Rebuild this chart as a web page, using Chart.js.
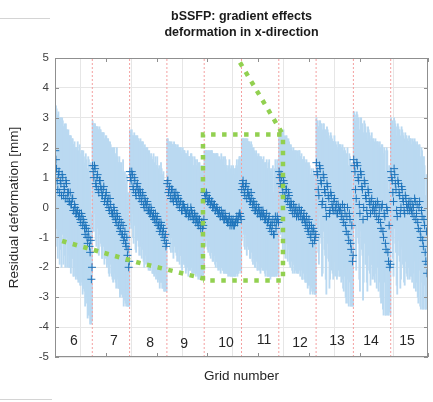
<!DOCTYPE html>
<html>
<head>
<meta charset="utf-8">
<script src="https://cdn.jsdelivr.net/npm/chart.js@4.4.0/dist/chart.umd.min.js"></script>
<style>
  html, body { margin: 0; padding: 0; background: #fff; }
  #wrap { position: relative; width: 433px; height: 402px; }
  .edge { position: absolute; height: 1px; background: #d4d4d4; }
</style>
</head>
<body>
<div id="wrap">
  <canvas id="chart" width="433" height="402"></canvas>
  <div class="edge" style="left:0;top:18px;width:50px"></div>
  <div class="edge" style="left:0;top:399px;width:52px"></div>
</div>
<script>
// one grid = 36.7 samples on the x axis (no labels shown, only gray grid every 50)
const GRID_WIDTH = 36.7;
const gridNames = ['6', '7', '8', '9', '10', '11', '12', '13', '14', '15'];

// mean residual deformation, two interleaved runs (A, B) per grid
const grid6Mean  = [1.9, 1.3, 0.6, 1.2, 0.9, 0.4, 1.0, 0.7, 0.3, 0.8, 0.5, 0.2, 0.5, 0.1, 0.3, -0.1, 0.0, -0.2, -0.1, -0.3, -0.4, -0.2, -0.6, -0.5, -0.9, -0.7, -1.2, -1.0, -1.5, -2.4];
const grid7Mean  = [1.4, 1.0, 1.3, 0.7, 1.1, 0.5, 0.9, 0.6, 0.4, 0.7, 0.3, 0.5, 0.2, 0.0, 0.3, -0.1, -0.2, 0.0, -0.3, -0.5, -0.3, -0.6, -0.8, -0.5, -0.9, -1.1, -0.8, -1.3, -1.6, -2.0];
const grid8Mean  = [1.2, 0.9, 1.1, 0.6, 0.9, 0.4, 0.8, 0.5, 0.6, 0.3, 0.5, 0.1, 0.3, 0.0, 0.2, -0.1, -0.2, 0.0, -0.3, -0.2, -0.4, -0.5, -0.3, -0.6, -0.8, -0.5, -0.9, -0.7, -1.1, -1.3];
const grid9Mean  = [0.8, 0.5, 0.7, 0.3, 0.6, 0.2, 0.4, 0.5, 0.1, 0.3, 0.0, 0.2, -0.1, 0.1, 0.0, -0.2, -0.1, -0.3, -0.2, 0.0, -0.3, -0.4, -0.2, -0.5, -0.3, -0.6, -0.4, -0.7, -0.5, -0.6];
const grid10Mean = [0.5, 0.3, 0.4, 0.2, 0.3, 0.1, 0.2, 0.0, 0.1, -0.1, 0.0, -0.2, -0.1, -0.3, -0.2, -0.2, -0.4, -0.3, -0.4, -0.5, -0.3, -0.5, -0.6, -0.4, -0.6, -0.5, -0.3, -0.4, -0.2, -0.3];
const grid11Mean = [0.6, 0.9, 0.5, 0.7, 0.3, 0.6, 0.4, 0.2, 0.3, 0.0, 0.1, -0.1, 0.0, -0.2, -0.1, -0.3, -0.2, -0.1, -0.3, -0.4, -0.2, -0.5, -0.3, -0.6, -0.8, -0.4, -0.9, -0.3, -0.5, -0.4];
const grid12Mean = [1.2, 0.8, 1.0, 0.5, 0.8, 0.3, 0.6, 0.2, 0.4, 0.0, 0.1, -0.2, 0.0, -0.1, -0.3, -0.2, 0.0, -0.3, -0.1, -0.4, -0.2, -0.5, -0.3, -0.7, -0.4, -0.9, -0.6, -1.2, -0.8, -1.0];
const grid13Mean = [1.5, 1.1, 0.4, 1.3, 0.8, 0.2, 1.0, 0.5, -0.3, 0.7, 0.3, -0.1, 0.4, 0.0, 0.2, -0.1, 0.1, -0.2, 0.0, -0.1, -0.3, 0.1, -0.5, -0.2, -0.8, 0.0, -1.1, -0.4, -1.4, -1.8];
const grid14Mean = [1.6, 1.2, 0.3, 1.4, 0.9, -0.2, 1.1, 0.6, 0.0, 0.8, 0.3, -0.3, 0.5, 0.1, 0.2, -0.1, 0.1, -0.2, 0.0, 0.2, -0.4, 0.0, -0.7, 0.1, -1.0, -0.3, -1.4, -0.1, -1.8, -2.0];
const grid15Mean = [1.2, 0.9, 0.2, 1.1, 0.6, -0.3, 0.8, 0.4, 0.0, 0.6, 0.2, -0.2, 0.3, 0.0, 0.1, -0.1, 0.2, -0.2, 0.0, 0.3, -0.4, 0.1, -0.7, 0.2, -1.0, -0.3, -1.3, -0.6, -1.8, -2.2];

const grid6MeanB  = [1.6, 0.9, 1.1, 0.5, 0.8, 1.1, 0.4, 0.6, 0.9, 0.3, 0.5, 0.2, 0.1, 0.3, -0.1, 0.1, -0.2, -0.1, -0.3, -0.2, -0.5, -0.3, -0.4, -0.7, -0.6, -1.0, -0.8, -1.3, -1.1, -2.0];
const grid7MeanB  = [1.2, 1.4, 0.8, 1.0, 0.6, 0.9, 0.7, 0.4, 0.6, 0.2, 0.4, 0.1, 0.3, -0.1, 0.1, -0.2, -0.3, -0.1, -0.4, -0.2, -0.6, -0.4, -0.7, -0.9, -0.6, -1.0, -1.2, -1.0, -1.4, -1.8];
const grid8MeanB  = [1.0, 1.2, 0.7, 1.0, 0.5, 0.7, 0.6, 0.3, 0.5, 0.2, 0.4, 0.0, 0.2, 0.1, -0.1, 0.0, -0.2, -0.1, -0.3, -0.4, -0.2, -0.4, -0.6, -0.5, -0.7, -0.6, -0.8, -1.0, -0.9, -1.2];
const grid9MeanB  = [0.9, 0.6, 0.4, 0.6, 0.3, 0.5, 0.3, 0.2, 0.4, 0.1, 0.2, -0.1, 0.1, 0.0, -0.1, -0.2, 0.0, -0.2, -0.3, -0.1, -0.2, -0.4, -0.3, -0.4, -0.5, -0.4, -0.6, -0.5, -0.7, -0.4];
const grid10MeanB = [0.4, 0.5, 0.2, 0.3, 0.1, 0.2, 0.0, 0.1, -0.1, 0.0, -0.1, -0.2, -0.3, -0.1, -0.3, -0.4, -0.2, -0.4, -0.5, -0.4, -0.6, -0.4, -0.5, -0.6, -0.5, -0.4, -0.5, -0.3, -0.2, -0.4];
const grid11MeanB = [0.8, 0.7, 0.4, 0.8, 0.5, 0.4, 0.2, 0.5, 0.1, 0.2, -0.1, 0.1, -0.2, 0.0, -0.2, -0.1, -0.3, -0.2, -0.4, -0.3, -0.5, -0.4, -0.7, -0.5, -0.6, -0.9, -0.5, -0.7, -0.3, -0.5];
const grid12MeanB = [1.0, 1.1, 0.7, 0.9, 0.4, 0.6, 0.3, 0.5, 0.1, 0.2, -0.1, 0.1, -0.2, 0.0, -0.1, -0.3, -0.1, -0.2, -0.4, -0.3, -0.4, -0.6, -0.5, -0.8, -0.6, -1.0, -0.8, -0.7, -1.1, -0.9];
const grid13MeanB = [1.2, 0.6, 1.4, 0.9, 0.1, 1.1, 0.6, 0.0, 0.8, 0.4, -0.2, 0.5, 0.1, -0.1, 0.3, 0.0, -0.2, 0.1, -0.1, 0.0, -0.2, -0.4, 0.0, -0.6, -0.3, -0.9, -0.2, -1.2, -0.6, -1.6];
const grid14MeanB = [1.4, 0.6, 1.5, 1.0, 0.1, 1.2, 0.7, -0.4, 0.9, 0.4, -0.1, 0.6, 0.2, -0.2, 0.3, 0.0, -0.1, 0.1, -0.3, 0.1, -0.2, -0.5, 0.0, -0.8, -0.2, -1.2, 0.0, -1.5, -0.6, -1.9];
const grid15MeanB = [1.0, 0.5, 1.3, 0.8, -0.1, 0.9, 0.5, -0.2, 0.7, 0.3, -0.1, 0.4, 0.1, -0.1, 0.2, 0.0, -0.1, 0.1, -0.3, 0.2, -0.2, -0.5, 0.0, -0.8, -0.1, -1.1, -0.4, -1.5, -0.8, -1.9];

// half length of the error bar for each point
const grid6Err  = [1.5, 2.0, 2.3, 1.8, 2.1, 2.4, 1.9, 2.0, 2.3, 1.8, 2.0, 2.2, 1.9, 2.1, 2.0, 2.2, 2.0, 2.1, 2.3, 2.0, 2.2, 2.1, 2.3, 2.2, 2.4, 2.3, 2.5, 2.6, 2.4, 1.5];
const grid7Err  = [1.5, 1.8, 1.5, 2.0, 1.6, 2.1, 1.7, 1.9, 2.1, 1.8, 2.0, 1.9, 2.1, 2.2, 1.9, 2.1, 2.2, 2.0, 2.1, 2.2, 2.0, 2.1, 2.2, 2.0, 2.1, 2.2, 2.0, 2.0, 1.7, 1.3];
const grid8Err  = [1.4, 1.6, 1.3, 1.8, 1.5, 1.9, 1.6, 1.8, 1.6, 1.9, 1.7, 1.9, 1.8, 1.9, 1.8, 2.0, 1.9, 1.8, 1.9, 2.0, 1.8, 1.9, 2.0, 1.8, 1.9, 2.0, 1.8, 1.9, 1.7, 1.5];
const grid9Err  = [1.5, 1.7, 1.4, 1.8, 1.5, 1.9, 1.7, 1.6, 1.9, 1.7, 1.9, 1.8, 2.0, 1.8, 1.9, 2.0, 1.9, 2.0, 1.9, 1.8, 1.9, 1.8, 1.9, 1.8, 1.9, 1.8, 1.9, 1.7, 1.9, 1.8];
const grid10Err = [1.4, 1.6, 1.5, 1.7, 1.6, 1.8, 1.7, 1.8, 1.7, 1.9, 1.8, 1.9, 1.8, 1.9, 1.8, 1.9, 1.8, 1.9, 1.8, 1.8, 1.9, 1.8, 1.7, 1.8, 1.7, 1.8, 1.9, 1.8, 1.9, 1.8];
const grid11Err = [1.7, 1.4, 1.8, 1.6, 1.9, 1.6, 1.8, 1.9, 1.8, 1.9, 1.8, 1.9, 1.8, 1.9, 1.8, 1.9, 1.8, 1.7, 1.8, 1.9, 1.8, 1.8, 1.9, 1.8, 1.5, 1.8, 1.4, 1.9, 1.8, 1.8];
const grid12Err = [1.4, 1.7, 1.5, 1.9, 1.6, 2.0, 1.8, 2.0, 1.8, 2.0, 1.9, 2.0, 1.9, 2.0, 1.9, 2.0, 1.9, 2.0, 1.9, 2.0, 1.9, 2.0, 1.9, 2.0, 1.9, 2.0, 1.9, 1.7, 2.0, 1.9];
const grid13Err = [1.5, 1.8, 2.3, 1.6, 2.0, 2.4, 1.8, 2.1, 2.6, 1.9, 2.1, 2.3, 2.0, 2.2, 2.0, 2.2, 2.0, 2.1, 2.1, 2.2, 2.2, 2.0, 2.3, 2.1, 2.4, 2.0, 2.2, 2.1, 1.9, 1.5];
const grid14Err = [1.6, 1.9, 2.4, 1.7, 2.1, 2.6, 1.9, 2.2, 2.5, 2.0, 2.2, 2.5, 2.1, 2.3, 2.1, 2.3, 2.2, 2.3, 2.2, 2.0, 2.4, 2.2, 2.5, 2.0, 2.6, 2.2, 2.2, 2.0, 1.8, 1.5];
const grid15Err = [1.8, 2.0, 2.5, 1.8, 2.1, 2.6, 1.9, 2.2, 2.4, 2.0, 2.2, 2.4, 2.1, 2.3, 2.1, 2.3, 2.1, 2.3, 2.2, 2.0, 2.4, 2.1, 2.5, 1.9, 2.4, 2.2, 2.1, 2.0, 1.6, 1.2];

const grid6ErrB  = [1.8, 2.2, 2.1, 2.4, 2.2, 1.9, 2.3, 2.2, 1.9, 2.3, 2.1, 2.2, 2.3, 2.0, 2.2, 2.1, 2.2, 2.1, 2.2, 2.3, 2.1, 2.2, 2.3, 2.1, 2.4, 2.2, 2.5, 2.3, 2.6, 1.8];
const grid7ErrB  = [1.6, 1.4, 1.9, 1.7, 2.0, 1.8, 1.9, 2.1, 1.9, 2.1, 2.0, 2.1, 2.0, 2.2, 2.0, 2.1, 2.2, 2.1, 2.1, 2.2, 2.1, 2.1, 2.2, 2.0, 2.2, 2.1, 2.0, 2.1, 1.9, 1.5];
const grid8ErrB  = [1.5, 1.4, 1.7, 1.5, 1.9, 1.7, 1.7, 1.9, 1.8, 1.9, 1.8, 2.0, 1.8, 1.9, 1.9, 1.9, 1.9, 1.8, 1.9, 1.9, 1.9, 1.8, 1.9, 1.9, 1.8, 1.9, 1.9, 1.8, 1.8, 1.6];
const grid9ErrB  = [1.4, 1.6, 1.8, 1.6, 1.8, 1.7, 1.8, 1.8, 1.7, 1.9, 1.8, 1.9, 1.9, 1.9, 1.9, 1.9, 1.9, 1.9, 1.8, 1.9, 1.9, 1.8, 1.9, 1.8, 1.8, 1.9, 1.8, 1.9, 1.7, 1.8];
const grid10ErrB = [1.5, 1.4, 1.6, 1.6, 1.7, 1.7, 1.8, 1.7, 1.8, 1.8, 1.9, 1.8, 1.8, 1.9, 1.8, 1.8, 1.9, 1.8, 1.7, 1.8, 1.7, 1.8, 1.8, 1.7, 1.8, 1.8, 1.8, 1.9, 1.9, 1.8];
const grid11ErrB = [1.5, 1.6, 1.8, 1.5, 1.8, 1.8, 1.9, 1.7, 1.9, 1.8, 1.9, 1.8, 1.9, 1.8, 1.9, 1.8, 1.8, 1.9, 1.8, 1.8, 1.8, 1.9, 1.6, 1.8, 1.7, 1.4, 1.8, 1.6, 1.9, 1.8];
const grid12ErrB = [1.6, 1.5, 1.8, 1.7, 1.9, 1.8, 2.0, 1.8, 2.0, 1.9, 2.0, 1.9, 2.0, 1.9, 2.0, 1.9, 2.0, 1.9, 2.0, 1.9, 2.0, 1.9, 2.0, 1.8, 2.0, 1.8, 1.9, 2.0, 1.8, 2.0];
const grid13ErrB = [1.7, 2.1, 1.5, 1.9, 2.4, 1.7, 2.0, 2.4, 1.9, 2.1, 2.5, 2.0, 2.2, 2.3, 2.1, 2.2, 2.2, 2.1, 2.2, 2.1, 2.2, 2.3, 2.0, 2.4, 2.1, 2.3, 2.0, 2.1, 2.1, 1.7];
const grid14ErrB = [1.8, 2.3, 1.7, 2.0, 2.5, 1.8, 2.1, 2.7, 2.0, 2.3, 2.4, 2.1, 2.3, 2.4, 2.2, 2.3, 2.3, 2.2, 2.4, 2.1, 2.3, 2.5, 2.1, 2.6, 2.2, 2.4, 2.0, 2.1, 2.0, 1.7];
const grid15ErrB = [1.9, 2.2, 1.7, 2.0, 2.5, 1.9, 2.1, 2.5, 2.0, 2.2, 2.4, 2.1, 2.3, 2.3, 2.2, 2.3, 2.2, 2.2, 2.4, 2.0, 2.3, 2.5, 2.1, 2.5, 2.1, 2.3, 2.1, 1.9, 1.9, 1.4];

// grid number labels inside the axes (x in samples, y in mm)
const labelX = [18.7, 58, 93.5, 127, 168.2, 205.6, 241, 277.5, 311, 346.3];
const labelY = [-4.48, -4.48, -4.55, -4.58, -4.53, -4.43, -4.55, -4.47, -4.47, -4.47];

// green dotted zoom marker
const calloutLeftX  = [7, 80.7, 145.6];
const calloutLeftY  = [-1.12, -1.83, -2.37];
const calloutBoxX   = [145.6, 145.6, 224.3, 224.3, 145.6];
const calloutBoxY   = [-2.44, 2.44, 2.44, -2.44, -2.44];
const calloutTopX   = [182, 224.3];
const calloutTopY   = [4.85, 2.44];

const runs = [
    { shift: 0.25, means: [grid6Mean, grid7Mean, grid8Mean, grid9Mean, grid10Mean, grid11Mean, grid12Mean, grid13Mean, grid14Mean, grid15Mean],
      errs: [grid6Err, grid7Err, grid8Err, grid9Err, grid10Err, grid11Err, grid12Err, grid13Err, grid14Err, grid15Err] },
    { shift: 0.75, means: [grid6MeanB, grid7MeanB, grid8MeanB, grid9MeanB, grid10MeanB, grid11MeanB, grid12MeanB, grid13MeanB, grid14MeanB, grid15MeanB],
      errs: [grid6ErrB, grid7ErrB, grid8ErrB, grid9ErrB, grid10ErrB, grid11ErrB, grid12ErrB, grid13ErrB, grid14ErrB, grid15ErrB] }
];

const points = [];
runs.forEach(run => {
    run.means.forEach((means, g) => {
        means.forEach((m, i) => {
            points.push({ x: (g + (i + run.shift) / means.length) * GRID_WIDTH, m: m, e: run.errs[g][i] });
        });
    });
});

const gridBounds = gridNames.map((n, i) => (i + 1) * GRID_WIDTH);
const boundLines = [];
gridBounds.forEach(b => boundLines.push({ x: b, y: -5 }, { x: b, y: 5 }, { x: b, y: null }));

const calloutPath = [];
[[calloutLeftX, calloutLeftY], [calloutBoxX, calloutBoxY], [calloutTopX, calloutTopY]].forEach(([xs, ys]) => {
    xs.forEach((x, i) => calloutPath.push({ x: x, y: ys[i] }));
    calloutPath.push({ x: xs[xs.length - 1], y: null });
});

const FONT = '"Liberation Sans", Arial, sans-serif';

const gridLabels = {
    id: 'gridLabels',
    afterDatasetsDraw(chart) {
        const { ctx, scales: { x, y } } = chart;
        ctx.save();
        ctx.font = '14px ' + FONT;
        ctx.fillStyle = '#262626';
        ctx.textAlign = 'center';
        ctx.textBaseline = 'middle';
        gridNames.forEach((name, i) => ctx.fillText(name, x.getPixelForValue(labelX[i]), y.getPixelForValue(labelY[i])));
        ctx.restore();
    }
};

// matlab style box with inward ticks
const axesBox = {
    id: 'axesBox',
    afterDraw(chart) {
        const { ctx, chartArea: a, scales: { x, y } } = chart;
        ctx.save();
        ctx.strokeStyle = '#8f8f8f';
        ctx.lineWidth = 1;
        ctx.strokeRect(a.left + 0.5, a.top + 0.5, a.right - a.left - 1, a.bottom - a.top - 1);
        ctx.beginPath();
        x.ticks.forEach(t => {
            const px = Math.round(x.getPixelForValue(t.value)) + 0.5;
            ctx.moveTo(px, a.top); ctx.lineTo(px, a.top + 4);
            ctx.moveTo(px, a.bottom); ctx.lineTo(px, a.bottom - 4);
        });
        y.ticks.forEach(t => {
            const py = Math.round(y.getPixelForValue(t.value)) + 0.5;
            ctx.moveTo(a.left, py); ctx.lineTo(a.left + 4, py);
            ctx.moveTo(a.right, py); ctx.lineTo(a.right - 4, py);
        });
        ctx.stroke();
        ctx.restore();
    }
};

new Chart(document.getElementById('chart'), {
    type: 'scatter',
    data: {
        datasets: [
            {
                type: 'line',
                data: calloutPath,
                borderColor: '#92d050',
                borderWidth: 4.5,
                borderDash: [4.5, 6.5],
                pointRadius: 0,
                spanGaps: false,
                order: 0
            },
            {
                type: 'scatter',
                data: points.map(p => ({ x: p.x, y: p.m })),
                pointStyle: 'cross',
                pointRadius: 4,
                pointBorderWidth: 1,
                pointBorderColor: '#1f74bb',
                pointBackgroundColor: '#1f74bb',
                order: 1
            },
            {
                type: 'line',
                data: boundLines,
                borderColor: '#f4a0a0',
                borderWidth: 1,
                borderDash: [2, 2],
                pointRadius: 0,
                spanGaps: false,
                order: 2
            },
            {
                type: 'bar',
                data: points.map(p => ({ x: p.x, y: [p.m - p.e, p.m + p.e] })),
                backgroundColor: '#bad9f1',
                borderWidth: 0,
                barThickness: 1.2,
                grouped: false,
                order: 3
            }
        ]
    },
    options: {
        responsive: false,
        devicePixelRatio: 1,
        animation: false,
        layout: { padding: { top: 0, right: 5, bottom: 0, left: 0 } },
        plugins: {
            legend: { display: false },
            tooltip: { enabled: false },
            title: {
                display: true,
                fullSize: false,
                text: ['bSSFP: gradient effects', 'deformation in x-direction'],
                color: '#1a1a1a',
                font: { family: FONT, size: 12.5, weight: 'bold', lineHeight: 1.24 },
                padding: { top: 9, bottom: 18 }
            }
        },
        scales: {
            x: {
                type: 'linear',
                min: 0,
                max: gridBounds[gridBounds.length - 1],
                offset: false,
                ticks: { stepSize: 50, display: false },
                grid: { color: '#e6e6e6', drawTicks: false },
                border: { display: false },
                title: {
                    display: true,
                    text: 'Grid number',
                    color: '#262626',
                    font: { family: FONT, size: 13.5 },
                    padding: { top: 4, bottom: 18 }
                },
                afterFit: s => { s.height = 45; }
            },
            y: {
                min: -5,
                max: 5,
                ticks: { stepSize: 1, padding: 6, color: '#404040', font: { family: FONT, size: 11.5 } },
                grid: { color: '#e6e6e6', drawTicks: false },
                border: { display: false },
                title: {
                    display: true,
                    text: 'Residual deformation [mm]',
                    color: '#262626',
                    font: { family: FONT, size: 13.5 },
                    padding: { top: 6, bottom: 0 }
                },
                afterFit: s => { s.width = 55; }
            }
        }
    },
    plugins: [gridLabels, axesBox]
});
</script>
</body>
</html>
